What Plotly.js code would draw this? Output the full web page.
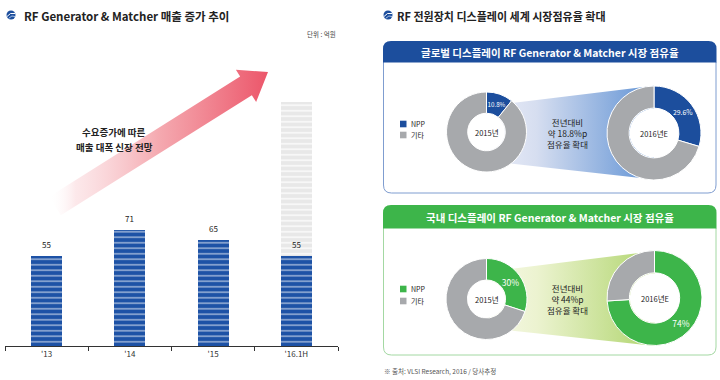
<!DOCTYPE html>
<html><head><meta charset="utf-8">
<script src="https://cdn.plot.ly/plotly-3.0.1.min.js"></script>
<style>html,body{margin:0;padding:0;background:#fff}#chart{width:720px;height:380px}</style>
</head><body><div id="chart"></div>
<script>
// ---- data ----
const categories = ["'13", "'14", "'15", "'16.1H"];
const sales = [55, 71, 65, 55];
const forecastCategory = ["'16.1H"];
const forecastExtra = [95];
const shareLabels = ['NPP', '기타'];
const global2015 = [10.8, 89.2];
const global2016 = [29.6, 70.4];
const domestic2015 = [30, 70];
const domestic2016 = [74, 26];
const yearLabels = ['2015년', '2016년E'];
const globalChangeText = ['전년대비', '약 18.8%p', '점유율 확대'];
const domesticChangeText = ['전년대비', '약 44%p', '점유율 확대'];
const arrowText = ['수요증가에 따른', '매출 대폭 신장 전망'];

// ---- styling ----
const W = 720, H = 380;
const FONT = '"Noto Sans CJK KR", "Noto Sans", sans-serif';
const BLUE = '#1c4e9d', GRAY = '#a7a9ac', GREEN = '#3db54a';
const px = x => x / W, py = y => 1 - y / H;

function dom(cx, cy, r) {
  return {x: [px(cx - r), px(cx + r)], y: [py(cy + r), py(cy - r)]};
}
function donut(vals, colors, cx, cy, r, hole) {
  return {
    type: 'pie', values: vals, labels: shareLabels, sort: false, direction: 'clockwise', rotation: 0,
    hole: hole, domain: dom(cx, cy, r),
    marker: {colors: colors, line: {color: '#fff', width: 1}},
    text: [vals[0] + '%', ''], textinfo: 'text', textposition: 'inside', insidetextorientation: 'horizontal',
    textfont: {family: FONT, size: 8.5, color: '#fff'},
    showlegend: false, hoverinfo: 'skip'
  };
}
function cover(cx, cy, r) {
  return {type: 'pie', values: [1], labels: ['c'], domain: dom(cx, cy, r), sort: false,
    marker: {colors: ['#fff'], line: {width: 0}}, textinfo: 'none', showlegend: false, hoverinfo: 'skip'};
}
function gradPoly(xs, ys, scale) {
  return {type: 'scatter', x: xs, y: ys, xaxis: 'x2', yaxis: 'y2', mode: 'lines', fill: 'toself',
    line: {width: 0, color: 'rgba(0,0,0,0)'}, fillgradient: {type: 'horizontal', colorscale: scale},
    hoverinfo: 'skip', showlegend: false};
}

// arrow geometry (decoration)
const T = [268, 72], S = [55, 206];
const L = Math.hypot(T[0] - S[0], T[1] - S[1]);
const u = [(T[0] - S[0]) / L, (T[1] - S[1]) / L], n = [-u[1], u[0]];
const B = [T[0] - 26 * u[0], T[1] - 26 * u[1]];
const P = (c, k) => [c[0] + k * n[0], c[1] + k * n[1]];
const arrowPts = [P(S, -11), P(B, -11), P(B, -19), T, P(B, 19), P(B, 11), P(S, 11), P(S, -11)];

const D = [
  {cx: 486.5, cy: 132, r: 40, hole: 0.47},
  {cx: 654, cy: 133, r: 47, hole: 0.53},
  {cx: 486.5, cy: 299, r: 40.5, hole: 0.47},
  {cx: 654.5, cy: 298, r: 47.5, hole: 0.53}
];

const data = [
  gradPoly(arrowPts.map(p => p[0]), arrowPts.map(p => p[1]),
    [[0, 'rgba(255,255,255,0)'], [0.12, 'rgba(250,214,218,0.55)'], [0.5, 'rgba(244,165,172,0.95)'], [1, 'rgb(236,86,106)']]),
  gradPoly([486, 654, 654, 486, 486], [106.2, 85.8, 179.5, 160.7, 106.2],
    [[0, 'rgb(236,238,248)'], [0.3, 'rgb(214,222,240)'], [1, 'rgb(96,146,212)']]),
  gradPoly([486, 655, 655, 486, 486], [272, 251, 346, 328, 272],
    [[0, 'rgb(247,249,232)'], [0.3, 'rgb(236,243,208)'], [1, 'rgb(176,213,110)']]),
  {type: 'bar', x: categories, y: sales, width: 0.37, hoverinfo: 'skip', showlegend: false,
    marker: {color: BLUE, line: {width: 0},
      pattern: {shape: '-', fgcolor: 'rgba(255,255,255,0.75)', bgcolor: '#1d52a6', size: 5.5, solidity: 0.2}}},
  {type: 'bar', x: forecastCategory, y: forecastExtra, width: 0.37, hoverinfo: 'skip', showlegend: false,
    marker: {color: '#ebebeb', line: {width: 0},
      pattern: {shape: '-', fgcolor: '#ffffff', bgcolor: '#e8e8e8', size: 5.5, solidity: 0.22}}},
  donut(global2015, [BLUE, GRAY], D[0].cx, D[0].cy, D[0].r, D[0].hole),
  donut(global2016, [BLUE, GRAY], D[1].cx, D[1].cy, D[1].r, D[1].hole),
  donut(domestic2015, [GREEN, GRAY], D[2].cx, D[2].cy, D[2].r, D[2].hole),
  donut(domestic2016, [GREEN, GRAY], D[3].cx, D[3].cy, D[3].r, D[3].hole)
].concat(D.map(d => cover(d.cx, d.cy, d.r * d.hole - 0.5)));

function ann(x, y, text, size, opts) {
  return Object.assign({x: x, y: y, xref: 'x2', yref: 'y2', text: text, showarrow: false,
    font: {family: FONT, size: size, color: '#222'}}, opts || {});
}
const annotations = [
  ann(22, 16, '<b>RF Generator & Matcher 매출 증가 추이</b>', 11.5, {xanchor: 'left'}),
  ann(338, 34, '단위 : 억원', 6.5, {xanchor: 'right', font: {family: FONT, size: 6.5, color: '#444'}}),
  ann(114, 132, '<b>' + arrowText[0] + '</b>', 9.5),
  ann(114, 147, '<b>' + arrowText[1] + '</b>', 9.5),
  ann(395, 16, '<b>RF 전원장치 디스플레이 세계 시장점유율 확대</b>', 11, {xanchor: 'left'}),
  ann(550, 52, '<b>글로벌 디스플레이 RF Generator & Matcher 시장 점유율</b>', 10.5, {font: {family: FONT, size: 10.5, color: '#fff'}}),
  ann(550, 217, '<b>국내 디스플레이 RF Generator & Matcher 시장 점유율</b>', 10.5, {font: {family: FONT, size: 10.5, color: '#fff'}}),
  ann(567, 133, globalChangeText.join('<br>'), 8.5),
  ann(567, 299, domesticChangeText.join('<br>'), 8.5),
  ann(D[0].cx, D[0].cy, yearLabels[0], 7.5),
  ann(D[1].cx, D[1].cy, yearLabels[1], 7.5),
  ann(D[2].cx, D[2].cy, yearLabels[0], 7.5),
  ann(D[3].cx, D[3].cy, yearLabels[1], 7.5),
  ann(409, 124, shareLabels[0], 7, {xanchor: 'left'}),
  ann(409, 135, shareLabels[1], 7, {xanchor: 'left'}),
  ann(409, 289, shareLabels[0], 7, {xanchor: 'left'}),
  ann(409, 301, shareLabels[1], 7, {xanchor: 'left'}),
  ann(382, 371, '※ 출처: VLSI Research, 2016 / 당사추정', 6.5, {xanchor: 'left', font: {family: FONT, size: 6.5, color: '#555'}})
].concat(categories.map((c, i) => ({x: c, y: sales[i], xref: 'x', yref: 'y', text: String(sales[i]),
  showarrow: false, yanchor: 'bottom', yshift: 4, font: {family: FONT, size: 8, color: '#222'}})));

function sq(x, y, color) {
  return {type: 'rect', xref: 'x2', yref: 'y2', x0: x, x1: x + 6.5, y0: y - 3.3, y1: y + 3.3, fillcolor: color, line: {width: 0}};
}
function headerPath(x0, x1, y0, y1, r) {
  return `M${x0},${y1} L${x0},${y0 + r} Q${x0},${y0} ${x0 + r},${y0} L${x1 - r},${y0} Q${x1},${y0} ${x1},${y0 + r} L${x1},${y1} Z`;
}
function bodyPath(x0, x1, y0, y1, r) {
  return `M${x0},${y0} L${x0},${y1 - r} Q${x0},${y1} ${x0 + r},${y1} L${x1 - r},${y1} Q${x1},${y1} ${x1},${y1 - r} L${x1},${y0}`;
}
function icon(cx, cy) {
  return [
    {type: 'circle', xref: 'x2', yref: 'y2', x0: cx - 4.5, x1: cx + 4.5, y0: cy - 4.5, y1: cy + 4.5, fillcolor: BLUE, line: {width: 0}},
    {type: 'path', xref: 'x2', yref: 'y2', path: `M${cx - 4},${cy + 1.5} Q${cx - 1},${cy - 3} ${cx + 4},${cy - 1.5}`, line: {color: '#fff', width: 1}},
    {type: 'path', xref: 'x2', yref: 'y2', path: `M${cx - 2.5},${cy + 3.5} Q${cx + 1},${cy - 0.5} ${cx + 4},${cy + 1.5}`, line: {color: '#cfe0f5', width: 0.8}}
  ];
}
const shapes = [
  {type: 'path', xref: 'x2', yref: 'y2', path: bodyPath(383.5, 716, 62, 193, 8), line: {color: '#7f9dd0', width: 1}},
  {type: 'path', xref: 'x2', yref: 'y2', path: headerPath(383, 716.5, 41, 62.5, 8), fillcolor: BLUE, line: {width: 0}},
  {type: 'path', xref: 'x2', yref: 'y2', path: bodyPath(383.5, 716, 228, 355, 8), line: {color: '#a3d8a2', width: 1}},
  {type: 'path', xref: 'x2', yref: 'y2', path: headerPath(383, 716.5, 205, 228.5, 8), fillcolor: GREEN, line: {width: 0}},
  sq(400, 124, BLUE), sq(400, 135, GRAY), sq(400, 289, GREEN), sq(400, 301, GRAY)
].concat(icon(11, 15), icon(388, 15));

const layout = {
  width: W, height: H, margin: {l: 0, r: 0, t: 0, b: 0},
  paper_bgcolor: '#fff', plot_bgcolor: 'rgba(0,0,0,0)',
  barmode: 'stack', showlegend: false,
  font: {family: FONT, size: 8, color: '#222'},
  xaxis: {domain: [px(5), px(338)], type: 'category', range: [-0.5, 3.5], showline: true, linecolor: '#333', linewidth: 1,
    ticks: 'outside', tickson: 'boundaries', ticklen: 4, tickcolor: '#333', tickwidth: 1,
    tickfont: {family: FONT, size: 8, color: '#333'}, showgrid: false, zeroline: false, fixedrange: true},
  yaxis: {domain: [py(346), py(20)], range: [0, 200], visible: false, fixedrange: true},
  xaxis2: {domain: [0, 1], range: [0, W], visible: false, anchor: 'y2', fixedrange: true},
  yaxis2: {domain: [0, 1], range: [H, 0], visible: false, anchor: 'x2', fixedrange: true},
  annotations: annotations, shapes: shapes
};
Plotly.newPlot('chart', data, layout, {staticPlot: true, displayModeBar: false});
</script></body></html>
